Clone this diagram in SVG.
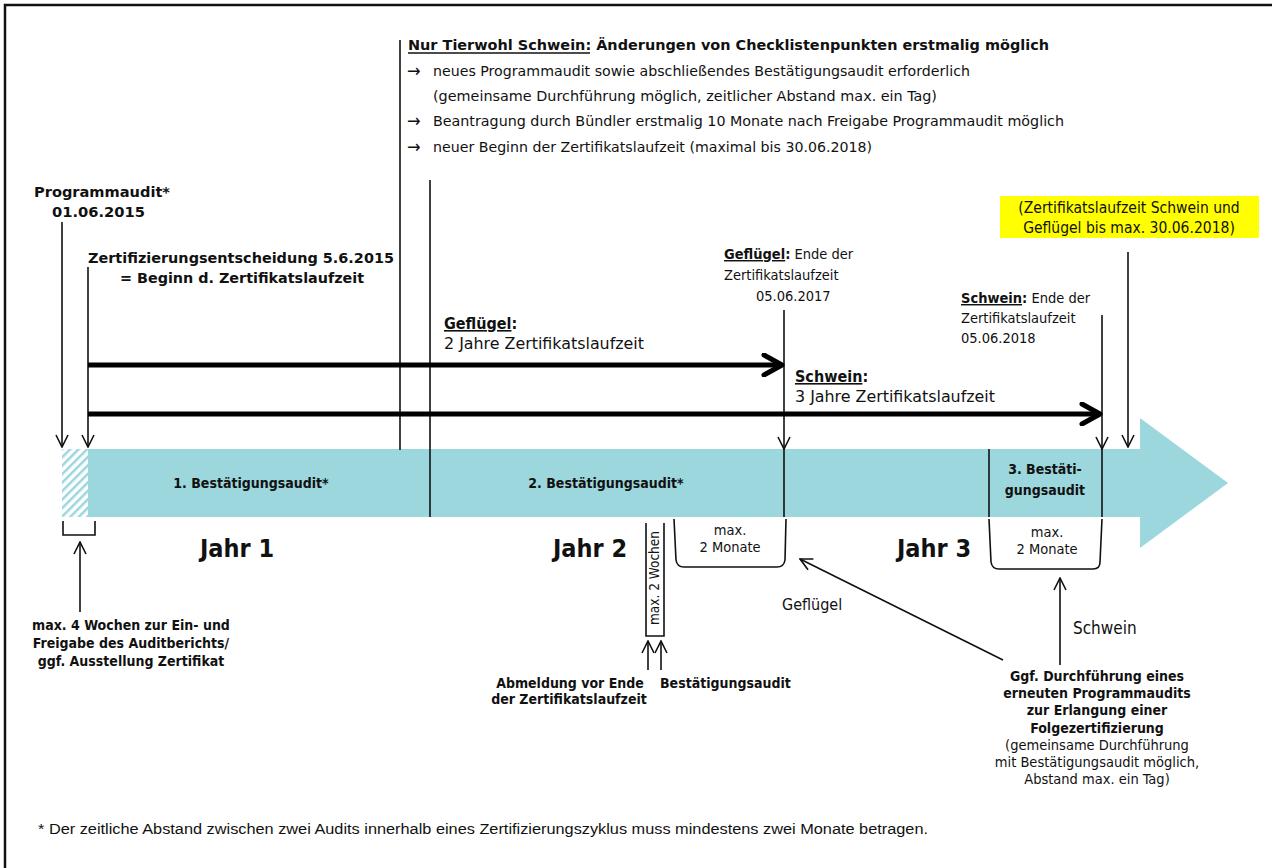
<svg xmlns="http://www.w3.org/2000/svg" width="1272" height="868" viewBox="0 0 1272 868">
<defs>
<style>
text{font-family:"DejaVu Sans Condensed","DejaVu Sans",Verdana,sans-serif;font-stretch:condensed;fill:#111;}
.b{font-weight:bold;}
.s13{font-size:13px;}
.s14{font-size:14px;}
.s145{font-size:14.5px;}
.s16{font-size:16px;}
.bl{font-size:14px;font-weight:bold;}
.j{font-size:25px;font-weight:bold;}
.c{text-anchor:middle;}
.ar{font-size:18px;}
.ln{stroke:#111;stroke-width:1.6;fill:none;}
.thick{stroke:#000;stroke-width:5;fill:none;}
.ft{font-family:"Liberation Sans",Arial,sans-serif;font-stretch:normal;font-size:14px;}
</style>
<marker id="ah" viewBox="0 0 14 14" refX="13" refY="7" markerWidth="14" markerHeight="14" markerUnits="userSpaceOnUse" orient="auto">
<path d="M1,1 L13,7 L1,13" fill="none" stroke="#111" stroke-width="1.6"/>
</marker>
<marker id="ahb" viewBox="0 0 24 24" refX="21" refY="12" markerWidth="24" markerHeight="24" markerUnits="userSpaceOnUse" orient="auto">
<path d="M3,2 L21,12 L3,22" fill="none" stroke="#000" stroke-width="5" stroke-linecap="round" stroke-linejoin="round"/>
</marker>
<pattern id="hatch" width="6" height="6" patternUnits="userSpaceOnUse" patternTransform="rotate(45)">
<rect width="6" height="6" fill="#fff"/>
<rect x="0" y="0" width="2.5" height="6" fill="#9CD7DE"/>
</pattern>
</defs>
<rect width="1272" height="868" fill="#fff"/>
<path d="M5,868 L5,5 L1272,5" fill="none" stroke="#111" stroke-width="2.5"/>

<g id="band">
<path d="M88,449 L1140,449 L1140,418 L1228,483 L1140,548 L1140,517 L88,517 Z" fill="#9CD7DE"/>
<rect x="62" y="449" width="26" height="68" fill="url(#hatch)"/>
</g>

<g id="connectors">
<line class="ln" x1="400" y1="40" x2="400" y2="450"/>
<line class="ln" x1="430" y1="180" x2="430" y2="517"/>
<line class="ln" x1="989" y1="449" x2="989" y2="517"/>
<line class="ln" x1="784" y1="449" x2="784" y2="517"/>
<line class="ln" x1="1102" y1="449" x2="1102" y2="517"/>
<line class="ln" x1="62" y1="222" x2="62" y2="447" marker-end="url(#ah)"/>
<line class="ln" x1="88" y1="267" x2="88" y2="447" marker-end="url(#ah)"/>
<line class="ln" x1="784" y1="310" x2="784" y2="449" marker-end="url(#ah)"/>
<line class="ln" x1="1102" y1="315" x2="1102" y2="449" marker-end="url(#ah)"/>
<line class="ln" x1="1128" y1="252" x2="1128" y2="447" marker-end="url(#ah)"/>
<line class="thick" x1="88" y1="365" x2="782" y2="365" marker-end="url(#ahb)"/>
<line class="thick" x1="88" y1="414" x2="1100" y2="414" marker-end="url(#ahb)"/>
<path class="ln" d="M63,521 L63,535 L95,535 L95,521"/>
<line class="ln" x1="80" y1="612" x2="80" y2="542" marker-end="url(#ah)"/>
<path class="ln" d="M646,523 L646,636 L664,636 L664,523"/>
<line class="ln" x1="648" y1="670" x2="648" y2="641" marker-end="url(#ah)"/>
<line class="ln" x1="661" y1="670" x2="661" y2="641" marker-end="url(#ah)"/>
<path class="ln" d="M674,519 L676,560 Q677,567 684,567 L777,567 Q784,567 785,560 L786,519"/>
<path class="ln" d="M989,519 L991,562 Q992,569 999,569 L1093,569 Q1100,569 1100,562 L1102,519"/>
<line class="ln" x1="1003" y1="660" x2="800" y2="559" marker-end="url(#ah)"/>
<line class="ln" x1="1060" y1="665" x2="1060" y2="578" marker-end="url(#ah)"/>
</g>

<g id="programmaudit">
<text class="bl" x="34" y="197" textLength="136" lengthAdjust="spacingAndGlyphs">Programmaudit*</text>
<text class="bl" x="52" y="217" textLength="93" lengthAdjust="spacingAndGlyphs">01.06.2015</text>
</g>
<g id="zertifizierung">
<text class="bl" x="88" y="263" textLength="306" lengthAdjust="spacingAndGlyphs">Zertifizierungsentscheidung 5.6.2015</text>
<text class="bl" x="120" y="283" textLength="244" lengthAdjust="spacingAndGlyphs">= Beginn d. Zertifikatslaufzeit</text>
</g>
<g id="tierwohl">
<text class="b s14" x="408" y="50" textLength="641" lengthAdjust="spacingAndGlyphs">Nur Tierwohl Schwein: Änderungen von Checklistenpunkten erstmalig möglich</text>
<line x1="408" y1="53" x2="590" y2="53" stroke="#111" stroke-width="1.3"/>
<text class="ar" x="407" y="77">→</text>
<text class="s14" x="433" y="76" textLength="537" lengthAdjust="spacingAndGlyphs">neues Programmaudit sowie abschließendes Bestätigungsaudit erforderlich</text>
<text class="s14" x="433" y="101" textLength="504" lengthAdjust="spacingAndGlyphs">(gemeinsame Durchführung möglich, zeitlicher Abstand max. ein Tag)</text>
<text class="ar" x="407" y="127">→</text>
<text class="s14" x="433" y="126" textLength="631" lengthAdjust="spacingAndGlyphs">Beantragung durch Bündler erstmalig 10 Monate nach Freigabe Programmaudit möglich</text>
<text class="ar" x="407" y="153">→</text>
<text class="s14" x="433" y="152" textLength="439" lengthAdjust="spacingAndGlyphs">neuer Beginn der Zertifikatslaufzeit (maximal bis 30.06.2018)</text>
</g>
<g id="gefluegel-ende">
<text class="s145" x="724" y="259"><tspan class="b" text-decoration="underline">Geflügel</tspan><tspan class="b">:</tspan> Ende der</text>
<text class="s145" x="724" y="280">Zertifikatslaufzeit</text>
<text class="s145" x="756" y="301">05.06.2017</text>
</g>
<g id="schwein-ende">
<text class="s145" x="961" y="303"><tspan class="b" text-decoration="underline">Schwein</tspan><tspan class="b">:</tspan> Ende der</text>
<text class="s145" x="961" y="323">Zertifikatslaufzeit</text>
<text class="s145" x="961" y="343">05.06.2018</text>
</g>
<g id="max-laufzeit">
<rect x="1000" y="196" width="259" height="42" fill="#FFFF00"/>
<text class="c" style="font-size:15.5px" x="1129" y="213">(Zertifikatslaufzeit Schwein und</text>
<text class="c" style="font-size:15.5px" x="1129" y="233">Geflügel bis max. 30.06.2018)</text>
</g>
<g id="gefluegel-laufzeit">
<text class="s16" x="444" y="329"><tspan class="b" text-decoration="underline">Geflügel</tspan><tspan class="b">:</tspan></text>
<text class="s16" x="444" y="349" textLength="200" lengthAdjust="spacingAndGlyphs">2 Jahre Zertifikatslaufzeit</text>
</g>
<g id="schwein-laufzeit">
<text class="s16" x="795" y="382"><tspan class="b" text-decoration="underline">Schwein</tspan><tspan class="b">:</tspan></text>
<text class="s16" x="795" y="402" textLength="200" lengthAdjust="spacingAndGlyphs">3 Jahre Zertifikatslaufzeit</text>
</g>
<g id="audit1"><text class="bl c" x="251" y="488">1. Bestätigungsaudit*</text></g>
<g id="audit2"><text class="bl c" x="606" y="488">2. Bestätigungsaudit*</text></g>
<g id="audit3">
<text class="bl c" x="1045" y="474">3. Bestäti-</text>
<text class="bl c" x="1045" y="495">gungsaudit</text>
</g>
<g id="jahre">
<text class="j" x="200" y="557">Jahr 1</text>
<text class="j" x="553" y="557">Jahr 2</text>
<text class="j" x="897" y="557">Jahr 3</text>
</g>
<g id="vier-wochen">
<text class="bl c" x="131" y="630">max. 4 Wochen zur Ein- und</text>
<text class="bl c" x="131" y="648">Freigabe des Auditberichts/</text>
<text class="bl c" x="131" y="666">ggf. Ausstellung Zertifikat</text>
</g>
<g id="zwei-wochen">
<text class="c" style="font-size:13.5px" transform="translate(659,578) rotate(-90)" x="0" y="0">max. 2 Wochen</text>
</g>
<g id="abmeldung">
<text class="bl c" x="570" y="688">Abmeldung vor Ende</text>
<text class="bl c" x="569" y="704">der Zertifikatslaufzeit</text>
<text class="bl" x="660" y="688">Bestätigungsaudit</text>
</g>
<g id="monate-gefluegel">
<text class="s145 c" x="730" y="535">max.</text>
<text class="s145 c" x="730" y="552">2 Monate</text>
</g>
<g id="monate-schwein">
<text class="s145 c" x="1047" y="537">max.</text>
<text class="s145 c" x="1047" y="554">2 Monate</text>
</g>
<text class="s16" x="782" y="610">Geflügel</text>
<text style="font-size:17px" x="1073" y="634">Schwein</text>
<g id="folgezertifizierung">
<text class="bl c" x="1097" y="681">Ggf. Durchführung eines</text>
<text class="bl c" x="1097" y="698">erneuten Programmaudits</text>
<text class="bl c" x="1097" y="715">zur Erlangung einer</text>
<text class="bl c" x="1097" y="733">Folgezertifizierung</text>
<text class="s145 c" x="1097" y="750">(gemeinsame  Durchführung</text>
<text class="s145 c" x="1097" y="767">mit Bestätigungsaudit möglich,</text>
<text class="s145 c" x="1097" y="784">Abstand max. ein Tag)</text>
</g>
<text class="ft" x="38" y="834" textLength="890" lengthAdjust="spacingAndGlyphs">* Der zeitliche Abstand zwischen zwei Audits innerhalb eines Zertifizierungszyklus muss mindestens zwei Monate betragen.</text>
</svg>
